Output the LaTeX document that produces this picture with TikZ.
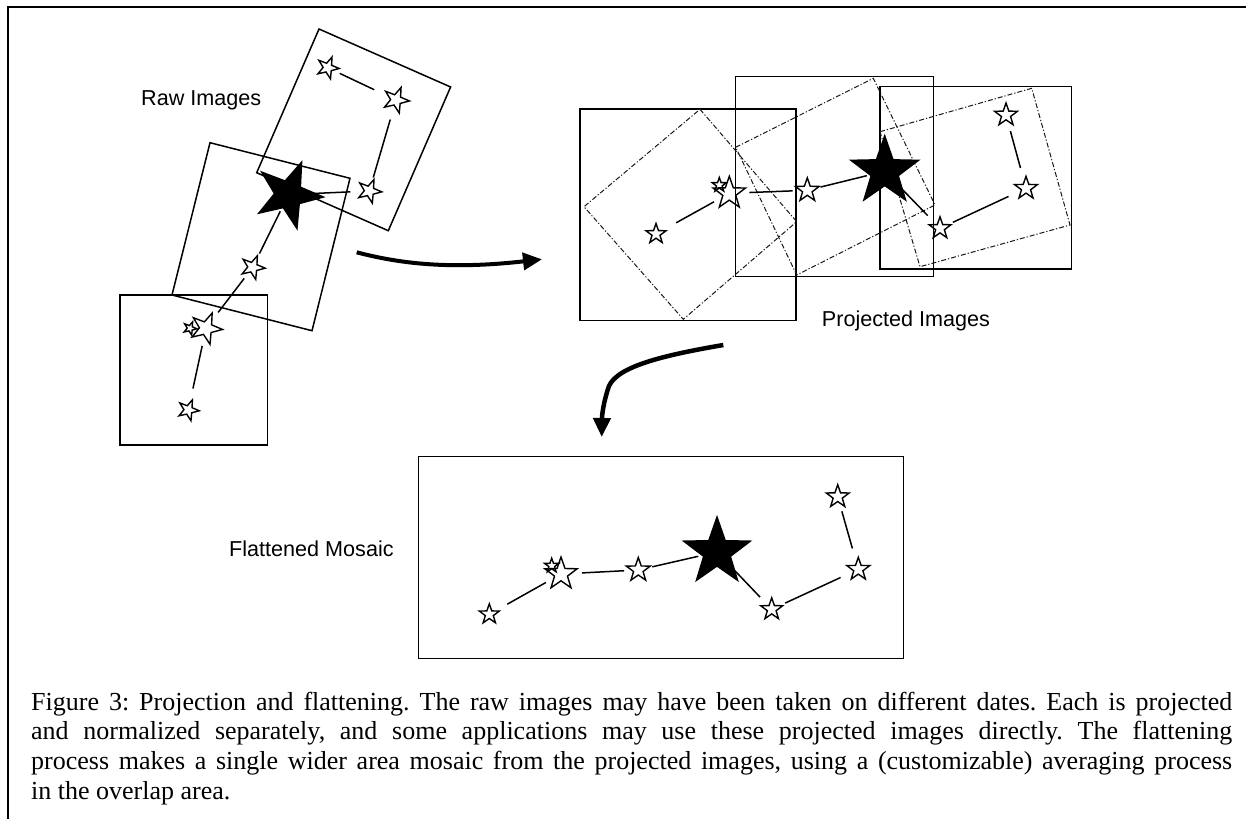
\documentclass[tikz,border=0pt]{standalone}
\usepackage{fontspec}
\setmainfont{Liberation Serif}
\newfontfamily\labelfont{Liberation Sans}
\usetikzlibrary{shapes.geometric,arrows.meta}
\frenchspacing

\begin{document}
\begin{tikzpicture}[x=1pt,y=-1pt,
  frameline/.style={line width=1.8pt},
  imgbox/.style={draw, line width=1.5pt},
  projbox/.style={draw, black!90, line width=1pt, dash pattern=on 5pt off 2pt on 1.2pt off 2pt},
  st/.style={star, star points=5, star point ratio=2.5, draw, line width=1.4pt,
             inner sep=0pt, outer sep=0pt, minimum size=#1},
  bigst/.style={st=#1, fill=black},
  tilted/.style={shape border rotate=-22},
  link/.style n args={2}{draw, line width=1.5pt, shorten <=#1pt, shorten >=#2pt},
  sweep/.style={line width=#1, -{Triangle[length=19pt,width=17pt]}},
  lbl/.style={font=\labelfont\fontsize{21.6}{26}\selectfont, inner sep=0pt, anchor=base west},
  captionline/.style={font=\fontsize{26}{30}\selectfont, inner sep=0pt, anchor=base west}
]
\useasboundingbox (0,0) rectangle (1246,819);

% page frame (top and left edges)
\draw[frameline] (1246,6.8) -- (8.2,6.8) -- (8.2,819);

% ---------------- raw images ----------------
\draw[imgbox] (319,29) -- (450.6,87) -- (388.3,230.7) -- (256.7,172.7) -- cycle;
\draw[imgbox] (210,142.7) -- (350,178.3) -- (312,330.7) -- (172,295) -- cycle;
\draw[imgbox] (120,295) rectangle (267.7,445);

\node[st=23pt, tilted] (r1) at (327.7,67.7) {};
\node[st=27pt, tilted] (r2) at (396,100) {};
\node[st=25pt, tilted] (r3) at (369.3,191) {};
\node[bigst=70pt, tilted] (rb) at (288.5,194.6) {};
\node[st=25pt, tilted] (r4) at (252.7,267.3) {};
\node[st=14pt, tilted] (r5) at (190,328.3) {};
\node[st=33pt, tilted] (r6) at (206,328.3) {};
\node[st=22pt, tilted] (r7) at (188.3,410) {};

\draw[link={13.3}{24}] (r1.center) -- (r2.center);
\draw[link={20.3}{14.1}] (r2.center) -- (r3.center);
\draw[link={25}{19}] (rb.center) -- (r3.center);
\draw[link={18.6}{15.3}] (rb.center) -- (r4.center);
\draw[link={14}{20}] (r4.center) -- (r6.center);
\draw[link={18}{22}] (r6.center) -- (r7.center);

\node[lbl] (rawlabel) at (141,105) {Raw Images};

% ---------------- projected images ----------------
\draw[imgbox] (580,109) rectangle (796,320.7);
\draw[imgbox] (735.7,76.7) rectangle (933.3,276.7);
\draw[imgbox] (880,86.7) rectangle (1071.7,269);

\draw[projbox] (700,109.3) -- (796.7,221.7) -- (683.3,319.3) -- (584,206.7) -- cycle;
\draw[projbox] (735.7,147.3) -- (873.3,78.3) -- (935,205) -- (796.7,275) -- cycle;
\draw[projbox] (880,131.7) -- (1031.7,88.3) -- (1070,225) -- (920,266.7) -- cycle;

\node[st=21pt] (p1) at (656,234) {};
\node[st=15pt] (p2) at (719.3,185) {};
\node[st=34pt] (p3) at (729.3,193.3) {};
\node[st=25pt] (p4) at (807.3,190.3) {};
\node[bigst=71pt] (pb) at (884.7,171.3) {};
\node[st=23pt] (p5) at (940,228.3) {};
\node[st=24pt] (p6) at (1026,188.3) {};
\node[st=24pt] (p7) at (1006,115) {};

\draw[link={23}{17.5}] (p1.center) -- (p3.center);
\draw[link={20}{14.7}] (p3.center) -- (p4.center);
\draw[link={13.7}{18.4}] (p4.center) -- (pb.center);
\draw[link={25.5}{17.6}] (pb.center) -- (p5.center);
\draw[link={14.2}{19.3}] (p5.center) -- (p6.center);
\draw[link={16.7}{21.1}] (p7.center) -- (p6.center);

\node[lbl] (projlabel) at (821.7,326) {Projected Images};

% ---------------- flattened mosaic ----------------
\draw[imgbox] (418.3,456.7) rectangle (903.3,658.3);

\node[st=21pt] (f1) at (489.3,614.3) {};
\node[st=15pt] (f2) at (551.7,565.7) {};
\node[st=34pt] (f3) at (561,574) {};
\node[st=25pt] (f4) at (638.3,570) {};
\node[bigst=70pt] (fb) at (717,552) {};
\node[st=23pt] (f5) at (771.7,609.3) {};
\node[st=24pt] (f6) at (858.3,569.3) {};
\node[st=24pt] (f7) at (837.7,496.7) {};

\draw[link={20.6}{17.3}] (f1.center) -- (f3.center);
\draw[link={21}{14.3}] (f3.center) -- (f4.center);
\draw[link={14.3}{19.2}] (f4.center) -- (fb.center);
\draw[link={25}{16.9}] (fb.center) -- (f5.center);
\draw[link={14.9}{19.5}] (f5.center) -- (f6.center);
\draw[link={15.2}{21.7}] (f7.center) -- (f6.center);

\node[lbl] (flatlabel) at (229,556) {Flattened Mosaic};

% ---------------- process arrows ----------------
\coordinate (projfrom) at (356.7,252.3);
\coordinate (projto) at (542,259.3);
\draw[sweep=4pt] (projfrom) .. controls (405,265) and (455,269) .. (projto);

\coordinate (flatfrom) at (723.3,345);
\coordinate (flatto) at (601.7,437);
\draw[sweep=4.5pt] (flatfrom) .. controls (665,355) and (618,366) .. (609,386)
  .. controls (604,400) and (602,414) .. (flatto);

% ---------------- caption ----------------
\node[captionline] (cap1) at (31,710) {\makebox[1201pt][s]{Figure 3: Projection and flattening. The raw images may have been taken on different dates. Each is projected}};
\node[captionline] (cap2) at (31,739.8) {\makebox[1201pt][s]{and normalized separately, and some applications may use these projected images directly. The flattening}};
\node[captionline] (cap3) at (31,769.6) {\makebox[1201pt][s]{process makes a single wider area mosaic from the projected images, using a (customizable) averaging process}};
\node[captionline] (cap4) at (31,799.4) {in the overlap area.};
\end{tikzpicture}
\end{document}
